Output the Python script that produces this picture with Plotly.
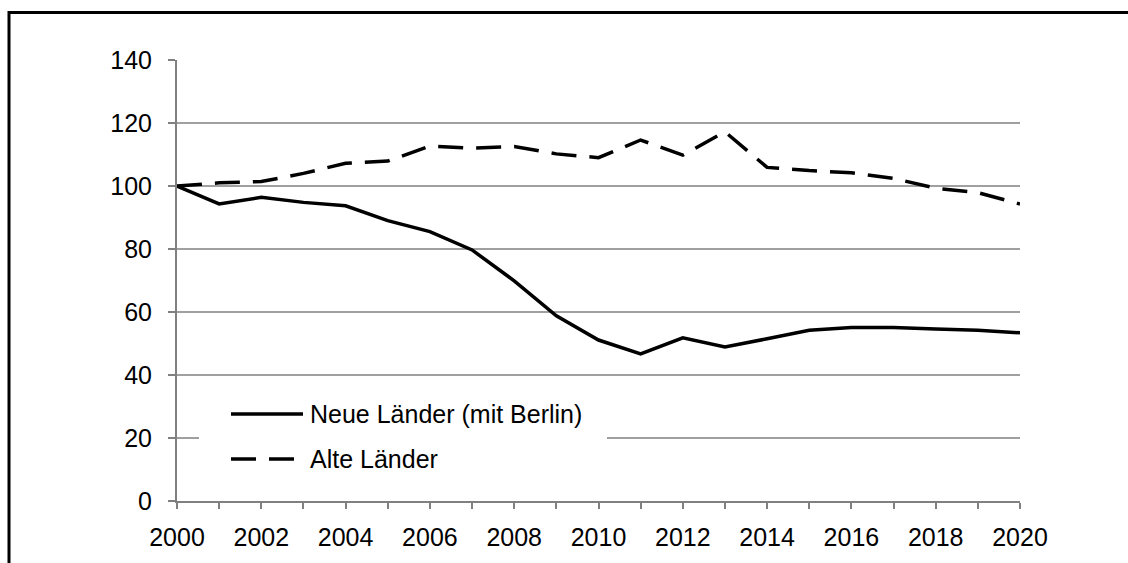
import plotly.graph_objects as go

# Index 2000 = 100
years = list(range(2000, 2021))
neue_laender = [100.0, 94.3, 96.4, 94.8, 93.7, 89.0, 85.5, 79.7, 69.9, 58.8, 51.1,
                46.7, 51.8, 48.9, 51.5, 54.2, 55.1, 55.1, 54.6, 54.2, 53.4]
alte_laender = [100.0, 101.0, 101.4, 104.0, 107.2, 107.9, 112.7, 112.0, 112.5, 110.2, 109.0,
                114.6, 109.8, 117.2, 105.9, 104.9, 104.2, 102.4, 99.3, 97.9, 94.3]
series_names = ["Neue Länder (mit Berlin)", "Alte Länder"]
y_ticks = [0, 20, 40, 60, 80, 100, 120, 140]
x_ticks = list(range(2000, 2021, 2))

W, H = 1128, 563
L, R, T, B = 177, 108, 60, 62
PW, PH = W - L - R, H - T - B
FONT = "Liberation Sans, Arial, sans-serif"
FS = 25
DASH = "25px,13px"


def px_x(p):
    return (p - L) / PW


def px_y(p):
    return (H - B - p) / PH


fig = go.Figure()
fig.add_trace(go.Scatter(x=years, y=neue_laender, mode="lines", name=series_names[0],
                         line=dict(color="black", width=3.5), showlegend=False))
fig.add_trace(go.Scatter(x=years, y=alte_laender, mode="lines", name=series_names[1],
                         line=dict(color="black", width=3.5, dash=DASH), showlegend=False))

shapes = []
# legend box (white, covers grid line)
shapes.append(dict(type="rect", xref="paper", yref="paper", layer="above",
                   x0=px_x(199), x1=px_x(607), y0=px_y(482), y1=px_y(394),
                   fillcolor="white", line=dict(width=0)))
rows = [(414, "solid"), (459, DASH)]
for (yy, dash), name in zip(rows, series_names):
    shapes.append(dict(type="line", xref="paper", yref="paper", layer="above",
                       x0=px_x(231), x1=px_x(303), y0=px_y(yy), y1=px_y(yy),
                       line=dict(color="black", width=3.5, dash=dash)))
# outer frame (top and left edges)
shapes.append(dict(type="line", xref="paper", yref="paper", x0=px_x(9), x1=px_x(1130),
                   y0=px_y(12.5), y1=px_y(12.5), line=dict(color="black", width=3)))
shapes.append(dict(type="line", xref="paper", yref="paper", x0=px_x(9), x1=px_x(9),
                   y0=px_y(11), y1=px_y(566), line=dict(color="black", width=3)))

annotations = []
for (yy, _), name in zip(rows, series_names):
    annotations.append(dict(xref="paper", yref="paper", x=px_x(308), y=px_y(yy),
                            text=name, showarrow=False, xanchor="left", yanchor="middle",
                            font=dict(family=FONT, size=FS, color="black")))

fig.update_layout(
    width=W, height=H,
    margin=dict(l=L, r=R, t=T, b=B, pad=0),
    paper_bgcolor="white", plot_bgcolor="white",
    font=dict(family=FONT, size=FS, color="black"),
    shapes=shapes, annotations=annotations,
    showlegend=False,
)
fig.update_xaxes(range=[2000, 2020], tickvals=x_ticks, ticktext=[str(v) for v in x_ticks],
                 showgrid=False, zeroline=False,
                 showline=True, linecolor="#808080", linewidth=2,
                 ticks="outside", ticklen=6, tickwidth=1.5, tickcolor="#808080",
                 minor=dict(dtick=1, ticks="outside", ticklen=6, tickwidth=1.5, tickcolor="#808080"),
                 ticklabelstandoff=7,
                 tickfont=dict(family=FONT, size=FS, color="black"))
fig.update_yaxes(range=[0, 140], tickvals=y_ticks,
                 showgrid=True, gridcolor="#a0a0a0", gridwidth=1.5, zeroline=False,
                 showline=True, linecolor="#808080", linewidth=2,
                 ticks="outside", ticklen=7, tickwidth=1.5, tickcolor="#808080",
                 ticklabelstandoff=11,
                 tickfont=dict(family=FONT, size=FS, color="black"))

fig.write_html("out.html")
